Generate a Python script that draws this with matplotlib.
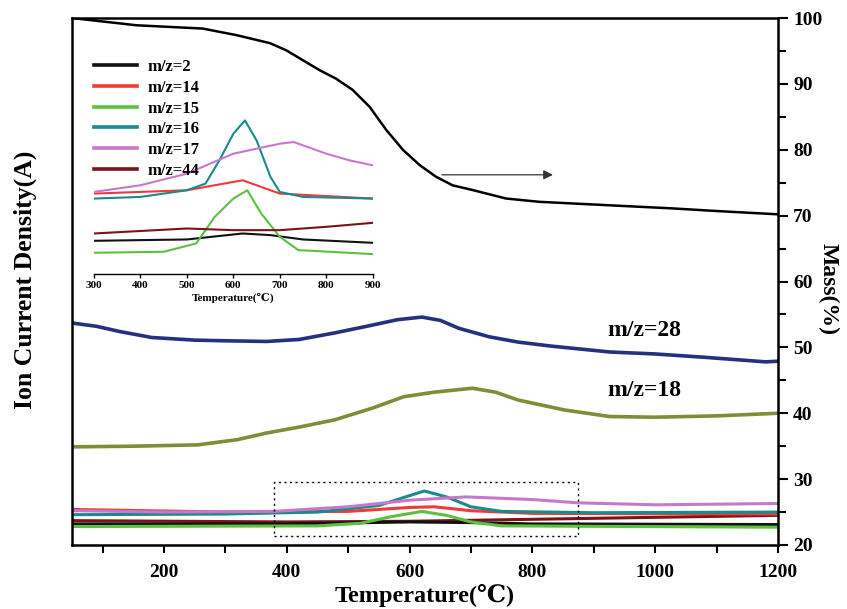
import matplotlib
matplotlib.use("Agg")
import matplotlib.pyplot as plt
from matplotlib.ticker import MultipleLocator

plt.rcParams['font.family'] = ['Liberation Serif', 'DejaVu Serif', 'DejaVu Sans']
plt.rcParams['font.weight'] = 'bold'

# ---------------- data (main axes, in Mass(%) scale units) ----------------
mass_T = [50, 155, 263, 318, 372, 399, 426, 453, 480, 507, 535, 562, 589, 616, 643, 670, 702,
          757, 811, 919, 1028, 1100, 1200]
mass_v = [100.0, 98.9, 98.4, 97.4, 96.2, 95.1, 93.6, 92.1, 90.8, 89.1, 86.5, 83.0, 80.0, 77.7,
          75.9, 74.6, 73.9, 72.6, 72.1, 71.6, 71.1, 70.7, 70.2]

mz28_T = [50, 90, 128, 180, 250, 300, 367, 420, 478, 530, 580, 620, 650, 680, 730, 777, 830, 926, 1000, 1080, 1180, 1200]
mz28_v = [53.7, 53.2, 52.4, 51.5, 51.1, 51.0, 50.9, 51.2, 52.2, 53.2, 54.2, 54.6, 54.1, 52.9, 51.6, 50.8, 50.2, 49.3, 49.0, 48.5, 47.8, 47.9]

mz18_T = [50, 150, 255, 320, 367, 420, 478, 540, 590, 640, 702, 740, 777, 852, 926, 1000, 1100, 1200]
mz18_v = [34.9, 35.0, 35.2, 36.0, 37.0, 37.9, 39.0, 40.8, 42.5, 43.2, 43.8, 43.2, 42.0, 40.5, 39.5, 39.4, 39.6, 40.0]

mz17_T = [50, 200, 379, 500, 600, 692, 800, 874, 1000, 1200]
mz17_v = [25.2, 25.0, 25.1, 25.8, 26.8, 27.3, 26.9, 26.4, 26.1, 26.3]
mz16_T = [50, 300, 450, 550, 600, 624, 660, 700, 750, 900, 1200]
mz16_v = [24.6, 24.7, 25.0, 26.0, 27.5, 28.2, 27.3, 25.8, 25.1, 24.9, 25.0]
mz14_T = [50, 300, 500, 600, 640, 700, 800, 1200]
mz14_v = [25.4, 25.0, 25.1, 25.7, 25.8, 25.2, 24.8, 24.7]
mz44_T = [50, 400, 600, 800, 1000, 1200]
mz44_v = [23.7, 23.5, 23.6, 23.9, 24.2, 24.5]
mz2_T = [50, 400, 600, 700, 800, 1200]
mz2_v = [23.2, 23.2, 23.5, 23.4, 23.2, 23.1]
mz15_T = [50, 450, 520, 570, 620, 660, 700, 750, 1200]
mz15_v = [22.8, 22.9, 23.3, 24.3, 25.1, 24.5, 23.5, 22.9, 22.7]

# ---------------- inset data (arbitrary units) ----------------
in17_T = [300, 400, 500, 550, 600, 650, 700, 730, 800, 850, 900]
in17_v = [24.7, 26.7, 30.2, 33.2, 36.2, 37.7, 39.2, 39.7, 36.2, 34.2, 32.7]
in16_T = [300, 400, 500, 540, 570, 600, 625, 650, 680, 700, 750, 900]
in16_v = [22.7, 23.2, 25.2, 27.2, 34.2, 42.2, 46.2, 40.2, 29.2, 24.7, 23.2, 22.7]
in14_T = [300, 500, 600, 620, 650, 700, 900]
in14_v = [24.2, 25.2, 27.7, 28.2, 26.7, 24.2, 22.7]
in15_T = [300, 450, 520, 560, 600, 630, 660, 700, 740, 900]
in15_v = [6.4, 6.7, 9.2, 17.2, 22.7, 25.2, 18.2, 11.2, 7.2, 6.0]
in44_T = [300, 500, 600, 700, 800, 900]
in44_v = [12.2, 13.7, 13.2, 13.2, 14.2, 15.4]
in2_T = [300, 500, 620, 680, 750, 900]
in2_v = [10.0, 10.4, 12.2, 11.7, 10.4, 9.4]

legend_labels = ['m/z=2', 'm/z=14', 'm/z=15', 'm/z=16', 'm/z=17', 'm/z=44']

C_BLACK = '#111111'
C_RED = '#f03a3a'
C_GREEN = '#5cc043'
C_TEAL = '#1a8a8a'
C_PURPLE = '#c878cc'
C_DRED = '#7a1418'
C_NAVY = '#25307e'
C_OLIVE = '#7f8c38'

fig = plt.figure(figsize=(8.47, 6.09), dpi=100)
ax = fig.add_axes([0.085, 0.1051, 0.8335, 0.8653])

lw = 2.2
ax.plot(mass_T, mass_v, color='black', lw=1.8)
ax.plot(mz28_T, mz28_v, color=C_NAVY, lw=2.6)
ax.plot(mz18_T, mz18_v, color=C_OLIVE, lw=2.6)
ax.plot(mz44_T, mz44_v, color=C_DRED, lw=lw)
ax.plot(mz2_T, mz2_v, color=C_BLACK, lw=lw)
ax.plot(mz15_T, mz15_v, color=C_GREEN, lw=lw)
ax.plot(mz14_T, mz14_v, color=C_RED, lw=lw)
ax.plot(mz16_T, mz16_v, color=C_TEAL, lw=lw)
ax.plot(mz17_T, mz17_v, color=C_PURPLE, lw=lw)

ax.set_xlim(50, 1200)
ax.set_ylim(20, 100)
ax.yaxis.tick_right()
ax.xaxis.set_major_locator(MultipleLocator(200))
ax.xaxis.set_minor_locator(MultipleLocator(100))
ax.yaxis.set_major_locator(MultipleLocator(10))
ax.yaxis.set_minor_locator(MultipleLocator(5))
ax.tick_params(axis='x', which='both', direction='out', length=6, width=1.5, labelsize=14, pad=8)
ax.tick_params(axis='y', which='major', direction='out', length=7, width=1.5, labelsize=14, pad=4)
ax.tick_params(axis='y', which='minor', direction='out', length=6, width=1.5)
for lab in ax.get_xticklabels() + ax.get_yticklabels():
    lab.set_fontweight('bold')
for s in ax.spines.values():
    s.set_linewidth(1.8)

ax.set_xlabel('Temperature(℃)', fontsize=17.5, fontweight='bold', labelpad=2)
fig.text(0.978, 0.525, 'Mass(%)', rotation=270, fontsize=17,
         fontweight='bold', ha='center', va='center')
fig.text(0.03, 0.54, 'Ion Current Density(A)', rotation=90, fontsize=18.5,
         fontweight='bold', ha='center', va='center')

ax.text(922, 52.6, 'm/z=28', fontsize=17, fontweight='bold', va='center')
ax.text(922, 43.5, 'm/z=18', fontsize=17, fontweight='bold', va='center')

ax.annotate('', xy=(838, 76.2), xytext=(648, 76.2),
            arrowprops=dict(arrowstyle='-|>', color='#333333', lw=0.9, mutation_scale=14))

# dotted box
bx = [379, 874, 874, 379, 379]
by = [21.4, 21.4, 29.6, 29.6, 21.4]
ax.plot(bx, by, color='black', lw=1.0, ls=(0, (1.5, 2.5)))

# ---------------- inset ----------------
axi = fig.add_axes([0.111, 0.550, 0.329, 0.356])
axi.patch.set_alpha(0)
ilw = 1.5
l2, = axi.plot(in2_T, in2_v, color=C_BLACK, lw=ilw)
l14, = axi.plot(in14_T, in14_v, color=C_RED, lw=ilw)
l15, = axi.plot(in15_T, in15_v, color=C_GREEN, lw=ilw)
l16, = axi.plot(in16_T, in16_v, color=C_TEAL, lw=ilw)
l17, = axi.plot(in17_T, in17_v, color=C_PURPLE, lw=ilw)
l44, = axi.plot(in44_T, in44_v, color=C_DRED, lw=ilw)
axi.set_xlim(300, 900)
axi.set_ylim(0, 65.2)
for side in ['left', 'right', 'top']:
    axi.spines[side].set_visible(False)
axi.spines['bottom'].set_linewidth(1.0)
axi.set_yticks([])
axi.set_xticks([300, 400, 500, 600, 700, 800, 900])
axi.tick_params(axis='x', direction='out', length=3, width=1, labelsize=8, pad=2)
for lab in axi.get_xticklabels():
    lab.set_fontweight('bold')
axi.set_xlabel('Temperature(℃)', fontsize=8, fontweight='bold', labelpad=2)
leg = axi.legend([l2, l14, l15, l16, l17, l44], legend_labels, loc='upper left',
                 bbox_to_anchor=(-0.055, 1.06), frameon=False,
                 handlelength=2.6, handletextpad=0.6, labelspacing=0.28,
                 prop={'weight': 'bold', 'size': 12})
for h in leg.get_lines():
    h.set_linewidth(2.6)

fig.savefig('out.png', dpi=100)
